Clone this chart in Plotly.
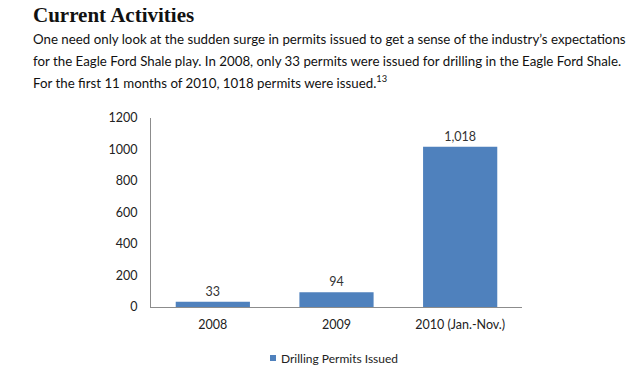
import plotly.graph_objects as go

categories = ["2008", "2009", "2010 (Jan.-Nov.)"]
permits = [33, 94, 1018]
series_name = "Drilling Permits Issued"
y_ticks = [0, 200, 400, 600, 800, 1000, 1200]

title_text = "Current Activities"
para_lines = [
    "One need only look at the sudden surge in permits issued to get a sense of the industry’s expectations",
    "for the Eagle Ford Shale play. In 2008, only 33 permits were issued for drilling in the Eagle Ford Shale.",
    "For the first 11 months of 2010, 1018 permits were issued.<sup>13</sup>",
]

OFF = 8  # page body margin
W, H = 640 - 2 * OFF, 390 - 2 * OFF
# plot area in window pixels
X0, X1, Y0, Y1 = 151, 522, 118, 307
L, R, T, B = X0 - OFF, OFF + W - X1, Y0 - OFF, OFF + H - Y1
PW, PH = X1 - X0, Y1 - Y0

def px(x):
    return (x - X0) / PW

def py(y):
    return (Y1 - y) / PH

BAR = "#4F81BD"
FONT = "Lato"

fig = go.Figure()
fig.add_trace(go.Bar(
    x=categories, y=permits, name=series_name,
    marker=dict(color=BAR, line=dict(width=0)),
    text=permits, texttemplate="%{y:,}", textposition="outside",
    textfont=dict(family=FONT, size=12.5, color="#333333"),
    cliponaxis=False, showlegend=False,
))

fig.update_layout(
    width=W, height=H, autosize=False,
    margin=dict(l=L, r=R, t=T, b=B, pad=0),
    paper_bgcolor="white", plot_bgcolor="white",
    bargap=0.4,
    font=dict(family=FONT, size=12.5, color="#222222"),
    xaxis=dict(showline=True, linecolor="#8c8c8c", linewidth=1, ticks="",
               showgrid=False, ticklabelstandoff=6,
               tickfont=dict(family=FONT, size=12.5, color="#222222")),
    yaxis=dict(range=[0, 1200], tickvals=y_ticks, showline=True, linecolor="#8c8c8c",
               linewidth=1, ticks="", showgrid=False, zeroline=False,
               ticklabelstandoff=10,
               tickfont=dict(family=FONT, size=12.5, color="#222222")),
)

# title and paragraph
fig.add_annotation(text="<b>" + title_text + "</b>", xref="paper", yref="paper",
                   x=px(31), y=py(15), xanchor="left", yanchor="middle", showarrow=False,
                   font=dict(family="Liberation Serif", size=21, color="#111111"))
line_y = [39, 61, 82]
for t, yy in zip(para_lines, line_y):
    fig.add_annotation(text=t, xref="paper", yref="paper", x=px(31), y=py(yy),
                       xanchor="left", yanchor="middle", showarrow=False,
                       font=dict(family=FONT, size=13.3, color="#111111"))

# legend (manual)
fig.add_shape(type="rect", xref="paper", yref="paper",
              x0=px(270), x1=px(276), y0=py(361), y1=py(355),
              fillcolor=BAR, line=dict(width=0))
fig.add_annotation(text=series_name, xref="paper", yref="paper", x=px(279), y=py(358),
                   xanchor="left", yanchor="middle", showarrow=False,
                   font=dict(family=FONT, size=12, color="#222222"))

fig.write_html("out.html")
